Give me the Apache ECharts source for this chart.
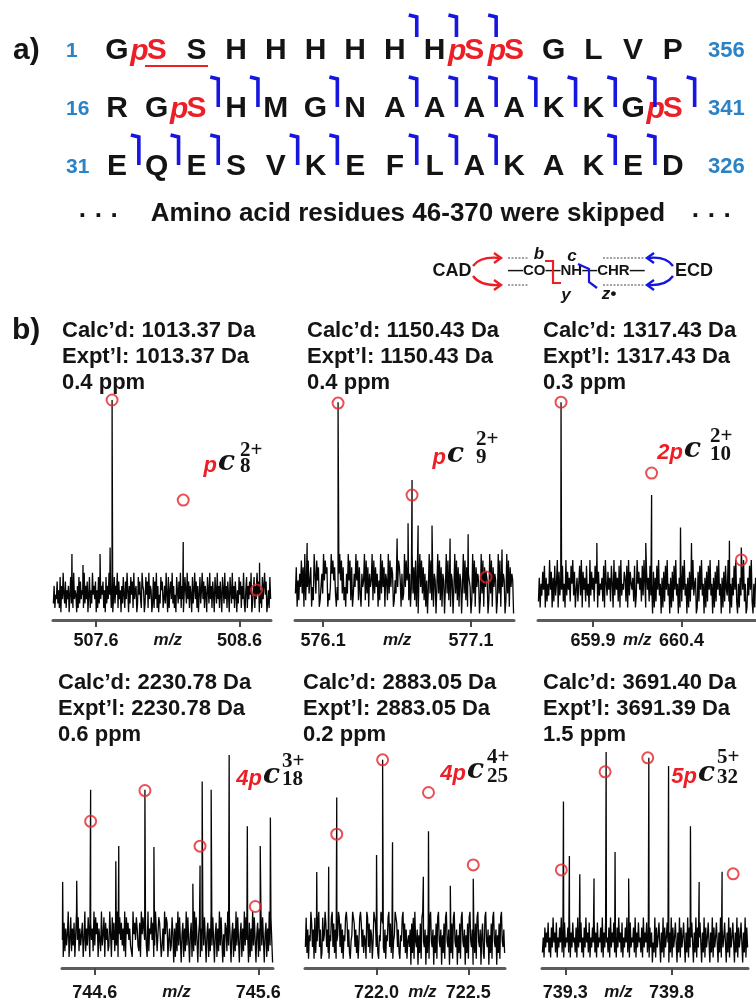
<!DOCTYPE html>
<html><head><meta charset="utf-8">
<script src="https://cdn.jsdelivr.net/npm/echarts@6/dist/echarts.min.js"></script>
<style>html,body{margin:0;padding:0;background:#fff}#c{width:756px;height:1002px}</style>
</head><body><div id="c"></div>
<script>
// ================= DATA =================
// a) sequence
const row1 = ['G','pS','S','H','H','H','H','H','H','pS','pS','G','L','V','P'];
const row2 = ['R','G','pS','H','M','G','N','A','A','A','A','K','K','G','pS'];
const row3 = ['E','Q','E','S','V','K','E','F','L','A','K','A','K','E','D'];
const rowStart = ['1','16','31'];
const rowEnd = ['356','341','326'];
// c-ion cleavage sites (after residue index)
const cleave1 = [7,8,9];
const cleave2 = [2,3,5,7,8,9,10,11,12,13,14];
const cleave3 = [0,1,2,4,5,7,8,9,12,13];

// b) spectra: header texts
const calcd = ['1013.37','1150.43','1317.43','2230.78','2883.05','3691.40'];
const exptl = ['1013.37','1150.43','1317.43','2230.78','2883.05','3691.39'];
const ppm   = ['0.4','0.4','0.3','0.6','0.2','1.5'];
// ion labels
const ionPrefix = ['p','p','2p','4p','4p','5p'];
const ionSub    = ['8','9','10','18','25','32'];
const ionSup    = ['2+','2+','2+','3+','4+','5+'];
// m/z ranges and labelled ticks
const mzRange = [[507.30,508.82],[575.91,577.39],[659.59,660.82],[744.40,745.69],[721.61,722.70],[739.19,740.16]];
const mzTicks = [[507.6,508.6],[576.1,577.1],[659.9,660.4],[744.6,745.6],[722.0,722.5],[739.3,739.8]];
// noise levels (digits 0-9) and their scale [offset, step] in % of panel height
const noise1 = "26143725180639427153604827193540618273541926370481529463705182936471508263947150382649173506284173950628471935602847319650284719365028173916042857136294081573926140852739163048529371640825937160482593716408529361740852936174085293617408529361740528471639205816374902581639470251836947025183";
const noise2 = "37152648371926483571429638571246395867132496857314269583724163958271364958273164592837164592837461529384716529384761253948751623948572614937281605948372615049382716504938271650493827165049382716504938271654029381746502938174650293817465029381746502938174650";
const noise3 = "26153748162539471628359173648251937462859371462583917462835193746285917354628195374628519374628193547628193754628139574628395174628350716284935061728493506172849350617284935061728493560172849350617284935061728493506172843920516384920516384925016384920516";
const noise4 = "41726359148263715948263571492638517462938571642935817462395184726391584736291857463219574863271958647319265847139625874136295871462385061729384057162938405716293840571629384057162938405716293840517629384057162938405716293845071629384057162938405716293840";
const noise5 = "38261549736182547936128459736215489372614598372615489736214598736251489736254198372651498736215498732615489372614598736215489372614536072819436052718943605271894360527189436052718943605271894360527189436052718943605271894360572189436052718943605271894362";
const noise6 = "25173648251739462815374926183547291638452719364825173946281537492618354729163845271936482517394628153749261835472916384527193648251736042917358406291735840629173584062917358406291735840629173584062917358406291735840629173584062917358406291735840629173";
const noiseScale = [[3.5,2.0],[3,3.0],[3,2.7],[2.5,2.6],[1.5,2.7],[2.5,2.3]];
// peaks [m/z, intensity %]
const peaks1 = [[507.712,100],[508.208,35.5],[508.72,18],[507.432,30],[507.509,25],[507.628,30],[507.698,33],[508.74,26]];
const peaks2 = [[576.201,99],[576.701,63.6],[577.201,22],[575.992,35],[576.60,37],[576.674,44],[576.742,43],[576.836,43],[576.958,37],[577.08,39],[577.309,32]];
const peaks3 = [[659.72,99],[660.231,56.8],[660.394,42],[660.737,33],[659.922,35],[660.198,35],[660.456,35],[660.67,36]];
const peaks4 = [[744.575,81.8],[744.907,81.8],[745.257,85.5],[745.312,81.8],[745.422,97.7],[745.533,65],[745.612,56],[745.674,69],[744.404,39.5],[744.49,40],[744.729,49],[744.747,56],[744.962,55.5],[745.244,47],[745.20,38.6]];
const peaks5 = [[721.783,78.2],[722.033,95.5],[722.283,62.7],[722.527,40.9],[721.739,46.4],[722.0,51.8],[722.087,57.7],[722.255,41.8],[721.674,44],[722.402,37.7]];
const peaks6 = [[739.291,76.4],[739.319,51.4],[739.492,99.1],[739.534,53.2],[739.693,96.4],[739.786,92.7],[739.889,65],[740.038,44.1],[739.368,43],[739.435,41],[739.598,41],[739.93,39.5]];
// isotope circles
const circles1 = [[507.712,100],[508.208,54.5],[508.719,13.6]];
const circles2 = [[576.201,98.6],[576.701,56.8],[577.201,19.5]];
const circles3 = [[659.72,99],[660.231,66.8],[660.737,27.3]];
const circles4 = [[744.575,67.3],[744.907,81.4],[745.244,55.9],[745.582,28.2]];
const circles5 = [[721.783,61.4],[722.033,95.5],[722.283,80.5],[722.527,47.3]];
const circles6 = [[739.281,45],[739.487,90],[739.688,96.4],[740.09,43.2]];

// ================= LAYOUT / STYLE =================
const SANS = '"Liberation Sans", Arial, sans-serif';
const SERIF = '"Liberation Serif", serif';
const DSERIF = '"DejaVu Serif", serif';
const BLACK = '#141414', RED = '#ec1f27', BLUE = '#2b82c4', MBLUE = '#1616e0', CRED = '#e3242b';
const noises = [noise1,noise2,noise3,noise4,noise5,noise6];
const peaksAll = [peaks1,peaks2,peaks3,peaks4,peaks5,peaks6];
const circlesAll = [circles1,circles2,circles3,circles4,circles5,circles6];
const grids = [
  {left:53, top:400, width:218, height:220},
  {left:295, top:400, width:219, height:220},
  {left:538, top:400, width:218, height:220},
  {left:62, top:750, width:211, height:220},
  {left:305, top:750, width:200, height:220},
  {left:542, top:750, width:206, height:220}
];
const headPos = [[62,331],[307,331],[543,331],[58,683],[303,683],[543,683]];
// ion label layout: [prefixRight, cLeft, cY, supLeft, supY, subY]
const ionPos = [
  [217,218,463,240,451,467],
  [446,447,455,476,440,458],
  [683,684,450,710,437,455],
  [262,263,776,282,762,780],
  [466,467,771,487,758,777],
  [697,698,774,717,758,778]
];

const g = [];
function T(x,y,text,font,fill,align,valign){
  g.push({type:'text', x:x, y:y, silent:true, z:10,
    style:{text:text, font:font, fill:fill||BLACK, textAlign:align||'left', textVerticalAlign:valign||'middle'}});
}
function L(points,stroke,w,dash){
  g.push({type:'polyline', silent:true, z:10, shape:{points:points},
    style:{stroke:stroke, lineWidth:w, fill:null, lineDash:dash||null, lineJoin:'miter'}});
}
function B(x1,y1,cx,cy,x2,y2,stroke){
  g.push({type:'bezierCurve', silent:true, z:10, shape:{x1:x1,y1:y1,cpx1:cx,cpy1:cy,x2:x2,y2:y2},
    style:{stroke:stroke, lineWidth:2.4, fill:null}});
}

// ---- a) ----
T(13,51,'a)','bold 30px '+SANS,BLACK);
const rows=[row1,row2,row3], rowY=[51,109,167], cleaves=[cleave1,cleave2,cleave3];
const markSpan=[[15,37],[77,107],[135,165]];
const X0=117, DX=39.7;
rows.forEach((row,r)=>{
  T(66,rowY[r],rowStart[r],'bold 21px '+SANS,BLUE);
  T(708,rowY[r],rowEnd[r],'bold 22px '+SANS,BLUE);
  row.forEach((aa,i)=>{
    const x=X0+DX*i;
    if(aa==='pS'){
      T(x,rowY[r],'S','bold 30px '+SANS,RED,'center');
      T(x-8,rowY[r]+1,'p','italic bold 30px '+SANS,RED,'right');
    } else T(x,rowY[r],aa,'bold 30px '+SANS,BLACK,'center');
  });
  cleaves[r].forEach(c=>{
    const x=X0+DX*(c+0.5)+2, t=markSpan[r][0], b=markSpan[r][1];
    L([[x-8,t],[x,t+2],[x,b]],MBLUE,3.6);
  });
});
L([[145,66],[208,66]],RED,2);
// skipped line
T(99,217,'· · ·','bold 26px '+SANS,BLACK,'center');
T(408,214,'Amino acid residues 46-370 were skipped','bold 26px '+SANS,BLACK,'center');
T(712,217,'· · ·','bold 26px '+SANS,BLACK,'center');
// fragmentation scheme
T(452,271,'CAD','bold 18px '+SANS,BLACK,'center');
T(694,271,'ECD','bold 18px '+SANS,BLACK,'center');
T(508,271,'—CO—NH—CHR—','bold 15px '+SANS,BLACK,'left');
L([[508,258],[528,258]],'#444',1,[2,1.5]); L([[603,258],[645,258]],'#444',1,[2,1.5]);
L([[508,285],[528,285]],'#444',1,[2,1.5]); L([[603,285],[645,285]],'#444',1,[2,1.5]);
B(473,266,480,256,500,258,RED); L([[494,253],[501,258],[494,263]],RED,2.4);
B(473,276,480,286,500,285,RED); L([[494,280],[501,285],[494,290]],RED,2.4);
B(673,266,666,256,648,258,MBLUE); L([[654,253],[647,258],[654,263]],MBLUE,2.4);
B(673,276,666,286,648,285,MBLUE); L([[654,280],[647,285],[654,290]],MBLUE,2.4);
L([[545,261],[553,261],[553,283],[561,283]],RED,2.2);
L([[578,264],[589,269],[589,282],[597,288]],MBLUE,2.2);
T(539,254,'b','italic bold 17px '+SANS,BLACK,'center');
T(572,256,'c','italic bold 17px '+SANS,BLACK,'center');
T(566,295,'y','italic bold 17px '+SANS,BLACK,'center');
T(609,294,'z•','italic bold 17px '+SANS,BLACK,'center');

// ---- b) ----
T(12,331,'b)','bold 30px '+SANS,BLACK);
for(let k=0;k<6;k++){
  const [hx,hy]=headPos[k];
  T(hx,hy,'Calc’d: '+calcd[k]+' Da','bold 22px '+SANS,BLACK);
  T(hx,hy+26,'Expt’l: '+exptl[k]+' Da','bold 22px '+SANS,BLACK);
  T(hx,hy+52,ppm[k]+' ppm','bold 22px '+SANS,BLACK);
  const p=ionPos[k];
  T(p[0],p[2]+3,ionPrefix[k],'italic bold 22px '+SANS,RED,'right');
  T(p[1],p[2],'c','italic bold 28px '+DSERIF,BLACK,'left');
  T(p[3],p[4],ionSup[k],'bold 21px '+SERIF,BLACK,'left');
  T(p[3],p[5],ionSub[k],'bold 21px '+SERIF,BLACK,'left');
}

// build spectra
const xAxes=[], yAxes=[], series=[];
for(let k=0;k<6;k++){
  const [mn,mx]=mzRange[k], s=noises[k], [off,step]=noiseScale[k];
  const pts=[];
  for(let i=0;i<s.length;i++){
    pts.push([mn+(mx-mn)*(i+0.5)/s.length, off+step*(+s[i])]);
  }
  peaksAll[k].forEach(p=>pts.push([p[0],p[1]]));
  pts.sort((a,b)=>a[0]-b[0]);
  const t=mzTicks[k], mid=(t[0]+t[1])/2;
  xAxes.push({type:'value', gridIndex:k, min:mn, max:mx, splitLine:{show:false},
    axisLine:{show:true, onZero:false, lineStyle:{color:'#5c5c5c', width:3}},
    axisTick:{show:true, customValues:t, length:7, lineStyle:{color:'#4a4a4a', width:2}},
    axisLabel:{show:true, customValues:[t[0],mid,t[1]], margin:k<3?12:16, color:BLACK,
      fontFamily:SANS, fontWeight:'bold', fontSize:18,
      formatter:function(v){ return Math.abs(v-mid)<1e-6 ? '{i|m/z}' : v.toFixed(1); },
      rich:{i:{fontStyle:'italic', fontWeight:'bold', fontSize:17, fontFamily:SANS, color:BLACK}}}
  });
  yAxes.push({type:'value', gridIndex:k, min:0, max:100, show:false});
  series.push({type:'line', xAxisIndex:k, yAxisIndex:k, data:pts, showSymbol:false, symbol:'none',
    clip:false, sampling:null, lineStyle:{color:'#050505', width:1.3}, animation:false, z:2});
  series.push({type:'scatter', xAxisIndex:k, yAxisIndex:k, data:circlesAll[k], symbol:'circle', symbolSize:11,
    clip:false, itemStyle:{color:'rgba(0,0,0,0)', borderColor:CRED, borderWidth:2}, animation:false, z:5});
}

const chart = echarts.init(document.getElementById('c'));
chart.setOption({
  animation:false,
  backgroundColor:'#fff',
  grid:grids,
  xAxis:xAxes,
  yAxis:yAxes,
  series:series,
  graphic:g
});
</script>
</body></html>
